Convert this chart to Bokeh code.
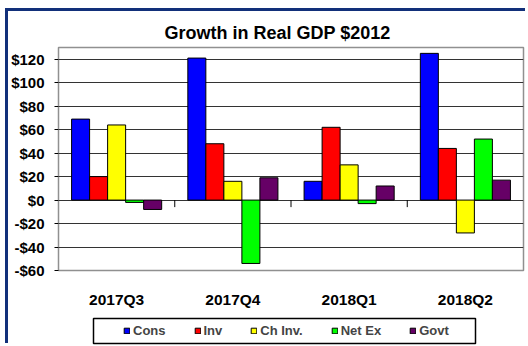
from bokeh.plotting import figure
from bokeh.models import FactorRange, FixedTicker, Legend, LegendItem, BoxAnnotation, Range1d
from bokeh.layouts import column
from bokeh.transform import dodge
from bokeh.embed import file_html
from bokeh.resources import INLINE

quarters = ["2017Q3", "2017Q4", "2018Q1", "2018Q2"]
series = ["Cons", "Inv", "Ch Inv.", "Net Ex", "Govt"]
cons = [69, 121, 16, 125]
inv = [20, 48, 62, 44]
ch_inv = [64, 16, 30, -28]
net_ex = [-2, -54, -3, 52]
govt = [-8, 19, 12, 17]
yticks = [-60, -40, -20, 0, 20, 40, 60, 80, 100, 120]
title_text = "Growth in Real GDP $2012"

colors = ["#0000FF", "#FF0000", "#FFFF00", "#00FF00", "#660066"]
values = [cons, inv, ch_inv, net_ex, govt]

FONT = "Liberation Sans"

p = figure(width=520, height=299, x_range=FactorRange(factors=quarters, range_padding=0),
           y_range=(-60, 130), output_backend="svg", toolbar_location=None,
           min_border_left=49, min_border_right=5, min_border_top=36, min_border_bottom=36,
           background_fill_color="white", border_fill_color="white")

p.title.text = title_text
p.title.text_font = FONT
p.title.text_font_size = "18px"
p.title.text_font_style = "bold"
p.title.text_color = "black"
p.title.align = "left"
p.title.offset = 106
p.title.standoff = 10

bw = 0.155
sources = []
for i, (name, vals, col) in enumerate(zip(series, values, colors)):
    src = {"q": quarters, "v": vals}
    sources.append(src)
    p.vbar(x=dodge("q", (i - 2) * bw, range=p.x_range), top="v", bottom=0, width=bw,
           source=src, fill_color=col, line_color="black", line_width=1)

# small ticks below zero line at category boundaries
p.segment(x0=dodge("q", 0.5, range=p.x_range), x1=dodge("q", 0.5, range=p.x_range),
          y0=0, y1=-6, source={"q": quarters[:-1]}, line_color="black", line_width=1)

p.xgrid.grid_line_color = None
p.ygrid.grid_line_color = "#333333"
p.ygrid.grid_line_width = 1
p.ygrid.ticker = FixedTicker(ticks=yticks)

p.yaxis.ticker = FixedTicker(ticks=yticks)
p.yaxis.major_label_overrides = {t: ("-$" if t < 0 else "$") + str(abs(t)) for t in yticks}
p.yaxis.major_label_text_font = FONT
p.yaxis.major_label_text_font_size = "15px"
p.yaxis.major_label_text_font_style = "bold"
p.yaxis.major_label_text_color = "black"
p.yaxis.major_tick_in = 0
p.yaxis.major_tick_out = 4
p.yaxis.major_tick_line_color = "black"
p.yaxis.minor_tick_line_color = None
p.yaxis.axis_line_color = "#909090"
p.yaxis.major_label_standoff = 10

p.xaxis.major_label_text_font = FONT
p.xaxis.major_label_text_font_size = "15.5px"
p.xaxis.major_label_text_font_style = "bold"
p.xaxis.major_label_text_color = "black"
p.xaxis.major_tick_line_color = None
p.xaxis.axis_line_color = "#909090"
p.xaxis.major_label_standoff = 14

p.outline_line_color = "#909090"
p.outline_line_width = 1.5

# legend strip below the chart (its frame is aligned with the chart's frame)
leg = figure(width=520, height=36, x_range=FactorRange(factors=quarters), y_range=Range1d(1000, 1001),
             output_backend="svg", toolbar_location=None,
             x_axis_type=None, y_axis_type=None,
             min_border_left=0, min_border_right=0, min_border_top=0, min_border_bottom=0,
             background_fill_color="white", border_fill_color="white")
leg.outline_line_color = None
leg.xgrid.visible = False
leg.ygrid.visible = False

items = []
for name, src, col in zip(series, sources, colors):
    r = leg.vbar(x="q", top="v", bottom=0, width=0.1, source=src,
                 fill_color=col, line_color="black", line_width=1)
    items.append(LegendItem(label=name, renderers=[r]))

legend = Legend(items=items, orientation="horizontal", location=(65, 8),
                label_text_font=FONT, label_text_font_size="13px", label_text_font_style="bold",
                glyph_width=7, glyph_height=7, label_standoff=3, label_width=10, label_height=14,
                spacing=28, padding=0, margin=0, border_line_color=None,
                background_fill_alpha=0)
leg.add_layout(legend, "center")

box = BoxAnnotation(left=35, right=417, bottom=3, top=28,
                    left_units="screen", right_units="screen", top_units="screen", bottom_units="screen",
                    fill_alpha=0, line_color="black", line_width=1.5, line_alpha=1)
leg.add_layout(box)

layout = column(p, leg, spacing=0)
layout.margin = (11, 0, 0, 8)
layout.styles = {"box-shadow": "-3px -3px 0 0 #12307a"}

open("out.html", "w").write(file_html(layout, INLINE))
